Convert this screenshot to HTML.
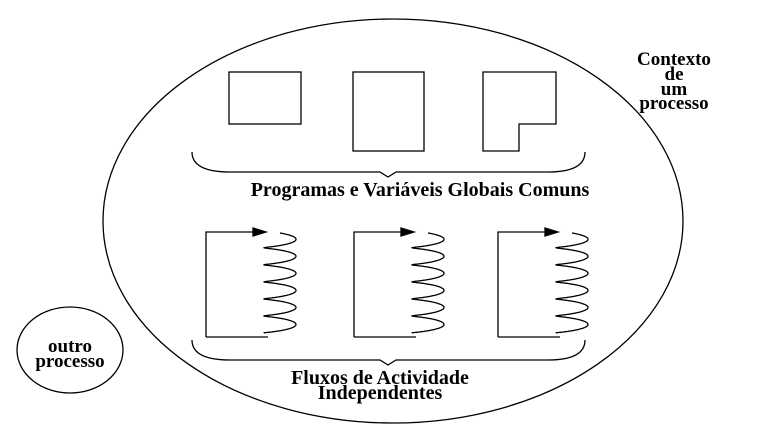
<!DOCTYPE html>
<html><head><style>
html,body{margin:0;padding:0;background:#fff;}
svg{display:block}
text{font-family:"Liberation Serif",serif;font-weight:bold;fill:#000}
</style></head><body>
<svg id="s" width="783" height="447" viewBox="0 0 783 447" xmlns="http://www.w3.org/2000/svg">
<g fill="none" stroke="#000" stroke-width="1.3">
<ellipse cx="393" cy="221" rx="290" ry="202"/>
<ellipse cx="70" cy="350" rx="53" ry="43"/>
<rect x="229" y="72" width="72" height="52"/>
<rect x="353" y="72" width="71" height="79"/>
<path d="M483 72 H556 V124 H519 V151 H483 Z"/>
<path d="M192 152 Q192 172 230 172 H380 L388 177 L396 172 H548 Q585 172 585 152"/>
<path d="M192 340 Q192 360 230 360 H380 L388 365 L396 360 H548 Q585 360 585 340"/>
<g id="flows"></g>
</g>
<text x="674" y="65" font-size="19" text-anchor="middle">Contexto</text>
<text x="674" y="80" font-size="19" text-anchor="middle">de</text>
<text x="674" y="95" font-size="19" text-anchor="middle">um</text>
<text x="674" y="109" font-size="19" text-anchor="middle">processo</text>
<text x="420" y="196" font-size="20" text-anchor="middle">Programas e Variáveis Globais Comuns</text>
<text x="380" y="384" font-size="20" text-anchor="middle">Fluxos de Actividade</text>
<text x="380" y="399" font-size="20" text-anchor="middle">Independentes</text>
<text x="70" y="352" font-size="19" text-anchor="middle">outro</text>
<text x="70" y="367" font-size="19" text-anchor="middle">processo</text>
</svg>
<script>
var g=document.getElementById('flows'),h='';
[206,354,498].forEach(function(x0){
 var cx=x0+74;
 h+='<path d="M'+x0+' 337 V232 H'+(x0+56)+'"/>';
 h+='<path d="M'+(x0+60)+' 232 L'+(x0+47)+' 228 L'+(x0+47)+' 236 Z" fill="#000"/>';
 var d='',N=500,n=5.75,y0=233,y1=331;
 for(var i=0;i<=N;i++){var t=i/N*n*2*Math.PI;
  var x=cx+16*Math.sin(t);
  var y=y0+(y1-y0)*i/N-2*Math.cos(t)+2;
  d+=(i?'L':'M')+x.toFixed(1)+' '+y.toFixed(1);}
 h+='<path d="'+d+'"/>';
 h+='<path d="M'+x0+' 337 H'+(x0+62)+'"/>';
});
g.innerHTML=h;
</script>
</body></html>
